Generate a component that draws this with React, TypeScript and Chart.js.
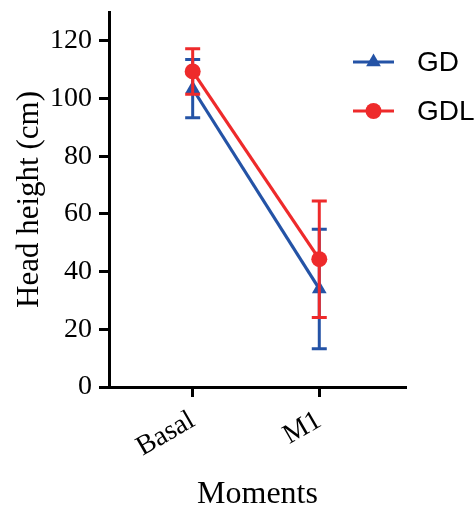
import React, { useEffect, useRef } from "react";
import { Chart, registerables } from "chart.js";

Chart.register(...registerables);

// ---- data ----
const categories = ["Basal", "M1"];
const seriesNames = ["GD", "GDL"];
const gdMean = [103.4, 34.0];
const gdErr = [10.1, 20.7];
const gdlMean = [109.4, 44.3];
const gdlErr = [7.9, 20.2];
const yTicks = [0, 20, 40, 60, 80, 100, 120];

const BLUE = "#2453a6";
const RED = "#ee2a2b";
const SERIF = "'Liberation Serif', 'Times New Roman', serif";
const SANS = "'Liberation Sans', Arial, sans-serif";

const errorBarPlugin = {
  id: "errorBars",
  beforeDatasetDraw(chart: any, args: any) {
    const ds = chart.data.datasets[args.index];
    const errs: number[] = ds.errorBars;
    if (!errs) return;
    const yScale = chart.scales.y;
    const ctx = chart.ctx;
    ctx.save();
    ctx.strokeStyle = ds.borderColor;
    ctx.lineWidth = 3;
    ctx.lineCap = "butt";
    args.meta.data.forEach((pt: any, i: number) => {
      const v = ds.data[i].y;
      const top = yScale.getPixelForValue(v + errs[i]);
      const bot = yScale.getPixelForValue(v - errs[i]);
      const x = pt.x;
      const half = 7.5;
      ctx.beginPath();
      ctx.moveTo(x, top);
      ctx.lineTo(x, bot);
      ctx.moveTo(x - half, top);
      ctx.lineTo(x + half, top);
      ctx.moveTo(x - half, bot);
      ctx.lineTo(x + half, bot);
      ctx.stroke();
    });
    ctx.restore();
  },
};

const legendPlugin = {
  id: "customLegend",
  afterDraw(chart: any) {
    const ctx = chart.ctx;
    const area = chart.chartArea;
    const x0 = area.right - 53;
    const x1 = area.right - 12;
    const xm = (x0 + x1) / 2;
    const textX = area.right + 11;
    chart.data.datasets.forEach((ds: any, i: number) => {
      const y = area.top + 50 + i * 49;
      ctx.save();
      ctx.strokeStyle = ds.borderColor;
      ctx.fillStyle = ds.borderColor;
      ctx.lineWidth = 3;
      ctx.beginPath();
      ctx.moveTo(x0, y);
      ctx.lineTo(x1, y);
      ctx.stroke();
      ctx.beginPath();
      if (ds.pointStyle === "triangle") {
        const r = 8.5;
        ctx.moveTo(xm, y - r);
        ctx.lineTo(xm + r * Math.sin(Math.PI / 3), y + r / 2);
        ctx.lineTo(xm - r * Math.sin(Math.PI / 3), y + r / 2);
        ctx.closePath();
      } else {
        ctx.arc(xm, y, 8, 0, Math.PI * 2);
      }
      ctx.fill();
      ctx.fillStyle = "#000";
      ctx.font = `28px ${SANS}`;
      ctx.textBaseline = "middle";
      ctx.textAlign = "left";
      ctx.fillText(ds.label, textX, y + 1);
      ctx.restore();
    });
  },
};

export default function App() {
  const ref = useRef<HTMLCanvasElement | null>(null);

  useEffect(() => {
    if (!ref.current) return;
    const toPts = (arr: number[]) => arr.map((v, i) => ({ x: i, y: v }));
    const chart = new Chart(ref.current, {
      type: "line",
      data: {
        datasets: [
          {
            label: seriesNames[0],
            data: toPts(gdMean),
            errorBars: gdErr,
            borderColor: BLUE,
            backgroundColor: BLUE,
            pointBackgroundColor: BLUE,
            pointBorderColor: BLUE,
            pointStyle: "triangle",
            pointRadius: 8.5,
            pointBorderWidth: 0,
            borderWidth: 3.2,
            order: 1,
            clip: false,
          } as any,
          {
            label: seriesNames[1],
            data: toPts(gdlMean),
            errorBars: gdlErr,
            borderColor: RED,
            backgroundColor: RED,
            pointBackgroundColor: RED,
            pointBorderColor: RED,
            pointStyle: "circle",
            pointRadius: 8,
            pointBorderWidth: 0,
            borderWidth: 3.2,
            order: 0,
            clip: false,
          } as any,
        ],
      },
      options: {
        responsive: false,
        animation: false,
        layout: { padding: { top: 12, right: 70, left: 0, bottom: 0 } },
        plugins: { legend: { display: false }, tooltip: { enabled: false } },
        scales: {
          x: {
            type: "linear",
            min: -0.661,
            max: 1.685,
            afterBuildTicks: (s: any) => {
              s.ticks = categories.map((_, i) => ({ value: i }));
            },
            afterFit: (s: any) => {
              s.height = 119;
              s.paddingLeft = 0;
              s.paddingRight = 0;
              s.paddingTop = 0;
              s.paddingBottom = 0;
            },
            ticks: {
              callback: (_v: any, i: number) => categories[i],
              font: { family: SERIF, size: 28 },
              color: "#000",
              minRotation: 30,
              maxRotation: 30,
              autoSkip: false,
              padding: 7,
            },
            grid: {
              drawOnChartArea: false,
              drawTicks: true,
              tickLength: 10,
              tickWidth: 3,
              tickColor: "#000",
            },
            border: { display: true, width: 3, color: "#000" },
            title: {
              display: true,
              text: "Moments",
              color: "#000",
              font: { family: SERIF, size: 32, lineHeight: 1 },
              padding: { top: 0, bottom: -5 },
            },
          },
          y: {
            min: 0,
            max: 130,
            afterBuildTicks: (s: any) => {
              s.ticks = yTicks.map((v) => ({ value: v }));
            },
            afterFit: (s: any) => {
              s.width = 109;
              s.paddingLeft = 0;
              s.paddingRight = 0;
              s.paddingTop = 0;
              s.paddingBottom = 0;
            },
            ticks: {
              font: { family: SERIF, size: 28 },
              color: "#000",
              padding: 7,
            },
            grid: {
              drawOnChartArea: false,
              drawTicks: true,
              tickLength: 10,
              tickWidth: 3,
              tickColor: "#000",
            },
            border: { display: true, width: 3, color: "#000" },
            title: {
              display: true,
              text: "Head height (cm)",
              color: "#000",
              font: { family: SERIF, size: 31, lineHeight: 1 },
              padding: { top: 14, bottom: 0 },
            },
          },
        },
      },
      plugins: [errorBarPlugin, legendPlugin],
    } as any);
    return () => chart.destroy();
  }, []);

  return (
    <div style={{ position: "fixed", left: 0, top: 0, width: 476, height: 506, background: "#fff" }}>
      <canvas ref={ref} width={476} height={506} style={{ display: "block" }} />
    </div>
  );
}
